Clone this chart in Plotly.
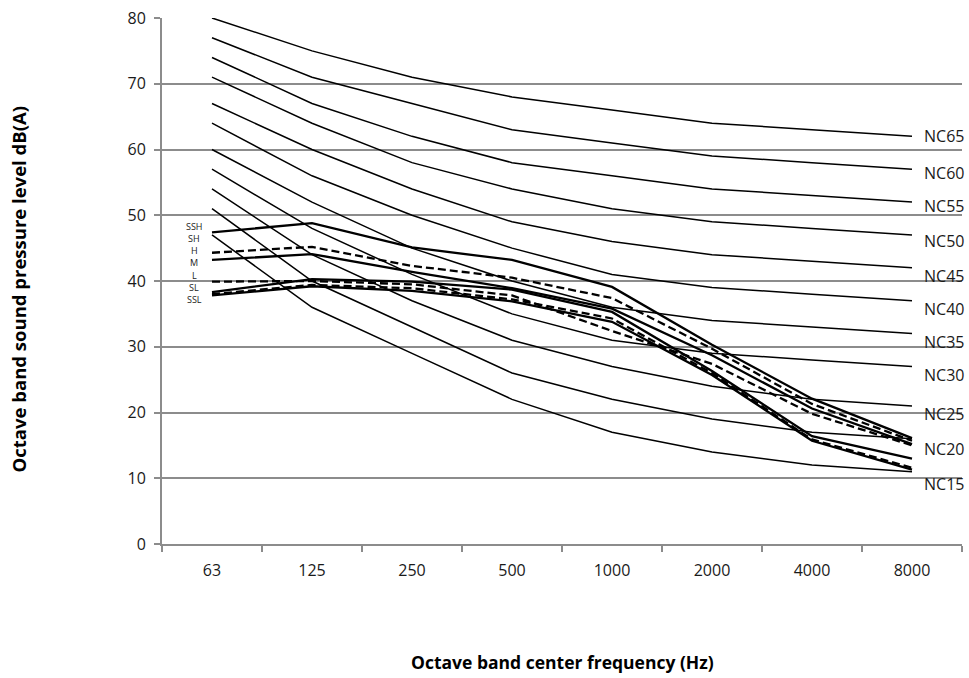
import plotly.graph_objects as go

freqs = ["63", "125", "250", "500", "1000", "2000", "4000", "8000"]

nc_names = ["NC65", "NC60", "NC55", "NC50", "NC45", "NC40", "NC35", "NC30", "NC25", "NC20", "NC15"]
nc65 = [80, 75, 71, 68, 66, 64, 63, 62]
nc60 = [77, 71, 67, 63, 61, 59, 58, 57]
nc55 = [74, 67, 62, 58, 56, 54, 53, 52]
nc50 = [71, 64, 58, 54, 51, 49, 48, 47]
nc45 = [67, 60, 54, 49, 46, 44, 43, 42]
nc40 = [64, 56, 50, 45, 41, 39, 38, 37]
nc35 = [60, 52, 45, 40, 36, 34, 33, 32]
nc30 = [57, 48, 41, 35, 31, 29, 28, 27]
nc25 = [54, 44, 37, 31, 27, 24, 22, 21]
nc20 = [51, 40, 33, 26, 22, 19, 17, 16]
nc15 = [47, 36, 29, 22, 17, 14, 12, 11]
nc_curves = [nc65, nc60, nc55, nc50, nc45, nc40, nc35, nc30, nc25, nc20, nc15]

fan_names = ["SSH", "SH", "H", "M", "L", "SL", "SSL"]
ssh = [47.4, 48.8, 45.1, 43.2, 39.1, 30.3, 22.1, 16.1]
sh = [44.3, 45.2, 42.3, 40.5, 37.4, 29.7, 21.3, 15.7]
h = [43.2, 44.1, 41.4, 38.9, 35.8, 28.7, 20.6, 15.2]
m = [39.9, 40.0, 39.5, 37.8, 32.4, 27.4, 19.8, 15.0]
l = [38.3, 40.3, 39.9, 38.7, 35.3, 26.3, 16.4, 13.0]
sl = [38.0, 39.4, 38.9, 37.2, 34.3, 26.0, 15.9, 11.6]
ssl = [37.8, 39.2, 38.5, 36.9, 33.8, 25.7, 15.7, 11.3]
fan_curves = [ssh, sh, h, m, l, sl, ssl]
fan_dashed = [False, True, False, True, False, True, False]

FONT = "Open Sans"
TXT = "#1a1a1a"
GRID = "#8c8c8c"

fig = go.Figure()
for name, vals in zip(nc_names, nc_curves):
    fig.add_trace(go.Scatter(x=freqs, y=vals, mode="lines", name=name,
                             line=dict(color="#000000", width=1.5), showlegend=False))
for name, vals, dashed in zip(fan_names, fan_curves, fan_dashed):
    fig.add_trace(go.Scatter(x=freqs, y=vals, mode="lines", name=name,
                             line=dict(color="#000000", width=2.3,
                                       dash="8px,4px" if dashed else "solid"),
                             showlegend=False))

annotations = []
# NC labels at right end of each curve
nc_yshift = [0, -4, -4, -6, -8, -8, -8, -9, -8, -10, -12]
for name, vals, ys in zip(nc_names, nc_curves, nc_yshift):
    annotations.append(dict(x=len(freqs) - 1, y=vals[-1], xref="x", yref="y",
                            text=name, showarrow=False, xanchor="left", yanchor="middle",
                            xshift=10, yshift=ys,
                            font=dict(family=FONT, size=16, color=TXT)))
# fan labels stacked at left
top_val = 48.32
step = 1.86
for i, name in enumerate(fan_names):
    annotations.append(dict(x=-0.18, y=top_val - i * step, xref="x", yref="y",
                            text=name, showarrow=False, xanchor="center", yanchor="middle",
                            font=dict(family=FONT, size=9, color=TXT)))
# axis titles
annotations.append(dict(x=-0.18, y=0.484, xref="paper", yref="paper",
                        text="<b>Octave band sound pressure level dB(A)</b>", textangle=-90,
                        showarrow=False, xanchor="center", yanchor="middle",
                        font=dict(family=FONT, size=18.5, color="#000000")))
annotations.append(dict(x=0.5, y=-0.225, xref="paper", yref="paper",
                        text="<b>Octave band center frequency (Hz)</b>",
                        showarrow=False, xanchor="center", yanchor="middle",
                        font=dict(family=FONT, size=17.5, color="#000000")))

fig.update_layout(
    width=969, height=678,
    margin=dict(l=162, r=7, t=12, b=134),
    paper_bgcolor="white", plot_bgcolor="white",
    annotations=annotations,
    xaxis=dict(type="category", categoryorder="array", categoryarray=freqs,
               range=[-0.5, len(freqs) - 0.5], tickson="boundaries",
               showgrid=False, showline=True, linecolor=GRID, linewidth=2,
               ticks="outside", ticklen=6, tickcolor=GRID, tickwidth=2,
               tickfont=dict(family=FONT, size=16, color=TXT), ticklabelstandoff=11),
    yaxis=dict(range=[0, 80], dtick=10, showgrid=True, gridcolor=GRID, gridwidth=2,
               zeroline=False, showline=True, linecolor=GRID, linewidth=2,
               ticks="outside", ticklen=6, tickcolor=GRID, tickwidth=2,
               tickfont=dict(family=FONT, size=16, color=TXT), ticklabelstandoff=5),
    font=dict(family=FONT),
)

fig.write_html("out.html")
